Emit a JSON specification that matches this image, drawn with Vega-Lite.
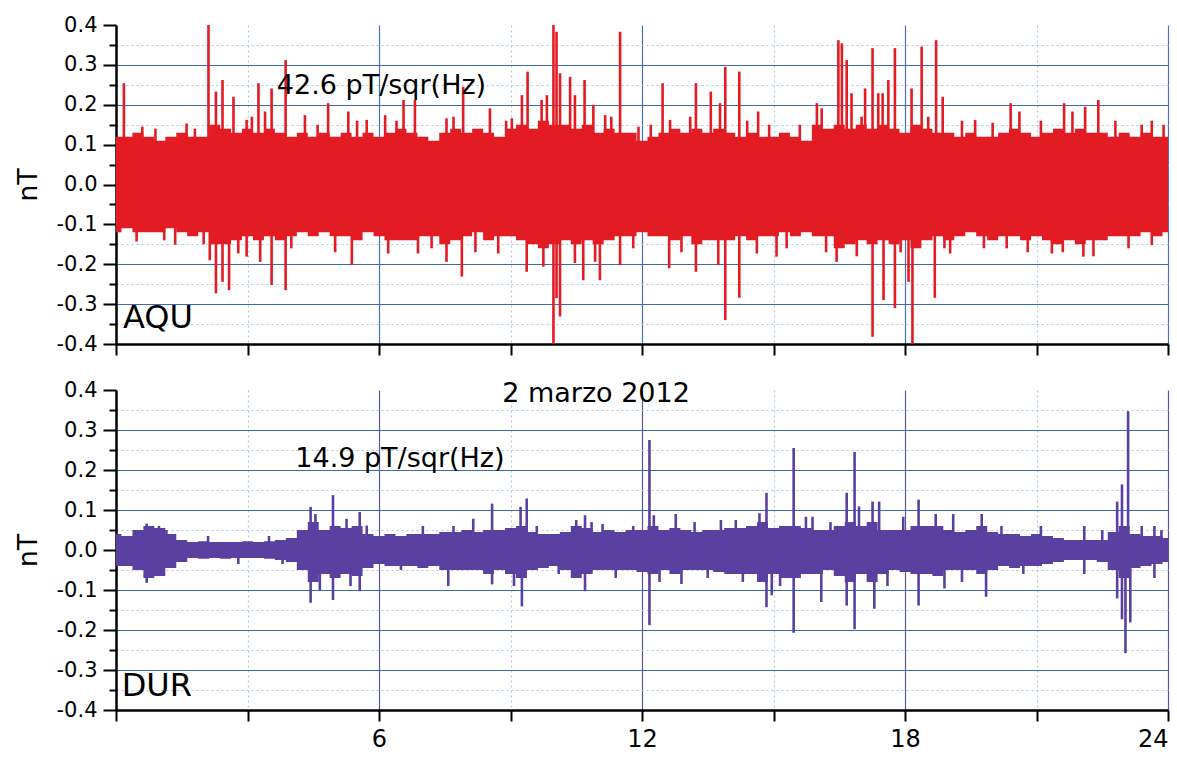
{
"$schema": "https://vega.github.io/schema/vega-lite/v6.json",
"padding": {"left": 14, "top": 14, "right": 3, "bottom": 4},
"background": "white",
"config": {"view": {"stroke": null}, "font": "DejaVu Sans"},
"spacing": 46,
"bounds": "flush",
"resolve": {"scale": {"x": "independent", "y": "independent"}},
"datasets": {
"aquEnv": [
{"t":0,"hi":0.12,"lo":-0.12},{"t":0.25,"hi":0.12,"lo":-0.11},{"t":0.5,"hi":0.13,"lo":-0.12},{"t":0.75,"hi":0.12,"lo":-0.12},{"t":1,"hi":0.11,"lo":-0.12},{"t":1.25,"hi":0.12,"lo":-0.11},{"t":1.5,"hi":0.13,"lo":-0.12},{"t":1.75,"hi":0.12,"lo":-0.13},{"t":2,"hi":0.12,"lo":-0.12},{"t":2.25,"hi":0.15,"lo":-0.15},{"t":2.5,"hi":0.14,"lo":-0.15},{"t":2.75,"hi":0.13,"lo":-0.14},{"t":3,"hi":0.14,"lo":-0.13},{"t":3.25,"hi":0.13,"lo":-0.14},{"t":3.5,"hi":0.14,"lo":-0.13},{"t":3.75,"hi":0.13,"lo":-0.14},{"t":4,"hi":0.12,"lo":-0.13},{"t":4.25,"hi":0.13,"lo":-0.12},{"t":4.5,"hi":0.12,"lo":-0.13},{"t":4.75,"hi":0.13,"lo":-0.12},{"t":5,"hi":0.12,"lo":-0.13},{"t":5.25,"hi":0.13,"lo":-0.13},{"t":5.5,"hi":0.12,"lo":-0.14},{"t":5.75,"hi":0.13,"lo":-0.12},{"t":6,"hi":0.12,"lo":-0.13},{"t":6.25,"hi":0.13,"lo":-0.14},{"t":6.5,"hi":0.14,"lo":-0.14},{"t":6.75,"hi":0.13,"lo":-0.14},{"t":7,"hi":0.12,"lo":-0.13},{"t":7.25,"hi":0.11,"lo":-0.13},{"t":7.5,"hi":0.13,"lo":-0.15},{"t":7.75,"hi":0.14,"lo":-0.14},{"t":8,"hi":0.13,"lo":-0.13},{"t":8.25,"hi":0.14,"lo":-0.12},{"t":8.5,"hi":0.13,"lo":-0.14},{"t":8.75,"hi":0.12,"lo":-0.13},{"t":9,"hi":0.14,"lo":-0.13},{"t":9.25,"hi":0.15,"lo":-0.14},{"t":9.5,"hi":0.14,"lo":-0.15},{"t":9.75,"hi":0.16,"lo":-0.16},{"t":10,"hi":0.15,"lo":-0.15},{"t":10.25,"hi":0.15,"lo":-0.14},{"t":10.5,"hi":0.14,"lo":-0.15},{"t":10.75,"hi":0.15,"lo":-0.14},{"t":11,"hi":0.13,"lo":-0.15},{"t":11.25,"hi":0.14,"lo":-0.14},{"t":11.5,"hi":0.13,"lo":-0.13},{"t":11.75,"hi":0.13,"lo":-0.13},{"t":12,"hi":0.11,"lo":-0.12},{"t":12.25,"hi":0.12,"lo":-0.13},{"t":12.5,"hi":0.13,"lo":-0.13},{"t":12.75,"hi":0.14,"lo":-0.14},{"t":13,"hi":0.13,"lo":-0.13},{"t":13.25,"hi":0.14,"lo":-0.15},{"t":13.5,"hi":0.13,"lo":-0.14},{"t":13.75,"hi":0.14,"lo":-0.14},{"t":14,"hi":0.13,"lo":-0.14},{"t":14.25,"hi":0.12,"lo":-0.13},{"t":14.5,"hi":0.13,"lo":-0.14},{"t":14.75,"hi":0.12,"lo":-0.13},{"t":15,"hi":0.12,"lo":-0.13},{"t":15.25,"hi":0.13,"lo":-0.12},{"t":15.5,"hi":0.12,"lo":-0.13},{"t":15.75,"hi":0.11,"lo":-0.12},{"t":16,"hi":0.15,"lo":-0.13},{"t":16.25,"hi":0.14,"lo":-0.13},{"t":16.5,"hi":0.15,"lo":-0.16},{"t":16.75,"hi":0.14,"lo":-0.15},{"t":17,"hi":0.15,"lo":-0.14},{"t":17.25,"hi":0.14,"lo":-0.15},{"t":17.5,"hi":0.15,"lo":-0.14},{"t":17.75,"hi":0.14,"lo":-0.15},{"t":18,"hi":0.13,"lo":-0.14},{"t":18.25,"hi":0.15,"lo":-0.16},{"t":18.5,"hi":0.14,"lo":-0.14},{"t":18.75,"hi":0.13,"lo":-0.13},{"t":19,"hi":0.13,"lo":-0.14},{"t":19.25,"hi":0.12,"lo":-0.13},{"t":19.5,"hi":0.13,"lo":-0.12},{"t":19.75,"hi":0.12,"lo":-0.13},{"t":20,"hi":0.12,"lo":-0.14},{"t":20.25,"hi":0.13,"lo":-0.13},{"t":20.5,"hi":0.14,"lo":-0.13},{"t":20.75,"hi":0.13,"lo":-0.14},{"t":21,"hi":0.12,"lo":-0.13},{"t":21.25,"hi":0.13,"lo":-0.14},{"t":21.5,"hi":0.14,"lo":-0.15},{"t":21.75,"hi":0.13,"lo":-0.14},{"t":22,"hi":0.14,"lo":-0.15},{"t":22.25,"hi":0.13,"lo":-0.14},{"t":22.5,"hi":0.13,"lo":-0.14},{"t":22.75,"hi":0.12,"lo":-0.13},{"t":23,"hi":0.13,"lo":-0.13},{"t":23.25,"hi":0.12,"lo":-0.13},{"t":23.5,"hi":0.13,"lo":-0.12},{"t":23.75,"hi":0.12,"lo":-0.13},{"t":24,"hi":0.12,"lo":-0.12}
],
"aquSpk": [
{"t":0.18,"v":0.254},{"t":0.47,"v":-0.143},{"t":1.35,"v":-0.151},{"t":1.61,"v":0.153},{"t":2.11,"v":0.40},{"t":2.14,"v":-0.19},{"t":2.28,"v":0.233},{"t":2.28,"v":-0.273},{"t":2.43,"v":0.262},{"t":2.43,"v":-0.244},{"t":2.58,"v":-0.265},{"t":2.68,"v":0.22},{"t":2.79,"v":-0.173},{"t":2.98,"v":0.162},{"t":2.98,"v":-0.181},{"t":3.25,"v":0.254},{"t":3.29,"v":-0.194},{"t":3.40,"v":0.183},{"t":3.55,"v":0.241},{"t":3.55,"v":-0.252},{"t":3.87,"v":0.312},{"t":3.87,"v":-0.265},{"t":4.31,"v":0.174},{"t":4.84,"v":0.204},{"t":5.30,"v":0.183},{"t":5.38,"v":-0.202},{"t":5.72,"v":0.162},
{"t":6.14,"v":0.174},{"t":6.21,"v":-0.173},{"t":6.56,"v":0.212},{"t":6.82,"v":0.212},{"t":6.89,"v":-0.173},{"t":7.54,"v":0.166},{"t":7.54,"v":-0.194},{"t":7.89,"v":-0.231},{"t":7.92,"v":0.245},{"t":8.53,"v":0.191},{"t":8.72,"v":-0.173},{"t":9.03,"v":0.166},{"t":9.26,"v":0.224},{"t":9.37,"v":-0.219},{"t":9.39,"v":0.283},{"t":9.71,"v":0.212},{"t":9.75,"v":-0.206},{"t":9.83,"v":0.224},{"t":9.98,"v":0.40},{"t":9.98,"v":-0.40},{"t":10.05,"v":0.383},{"t":10.05,"v":-0.285},{"t":10.13,"v":0.279},{"t":10.13,"v":-0.331},{"t":10.36,"v":0.27},{"t":10.47,"v":0.224},{"t":10.47,"v":-0.197},{"t":10.66,"v":-0.24},{"t":10.69,"v":0.262},{"t":10.89,"v":0.2},{"t":10.93,"v":-0.194},{"t":11.04,"v":-0.24},{"t":11.16,"v":0.174},{"t":11.50,"v":0.383},{"t":11.50,"v":-0.202},{"t":11.92,"v":0.145},
{"t":12.47,"v":0.254},{"t":12.62,"v":-0.21},{"t":12.64,"v":0.162},{"t":13.23,"v":0.254},{"t":13.23,"v":-0.219},{"t":13.57,"v":0.233},{"t":13.74,"v":-0.202},{"t":13.78,"v":0.204},{"t":13.90,"v":0.295},{"t":13.90,"v":-0.34},{"t":14.22,"v":0.283},{"t":14.22,"v":-0.284},{"t":14.62,"v":-0.173},{"t":14.65,"v":0.183},{"t":15.07,"v":-0.181},{"t":15.99,"v":0.204},{"t":16.10,"v":0.191},{"t":16.44,"v":-0.194},{"t":16.48,"v":0.362},{"t":16.56,"v":0.354},{"t":16.67,"v":0.312},{"t":16.78,"v":0.229},{"t":17.01,"v":0.17},{"t":17.09,"v":0.241},{"t":17.26,"v":0.342},{"t":17.26,"v":-0.382},{"t":17.39,"v":0.229},{"t":17.49,"v":0.229},{"t":17.51,"v":-0.29},{"t":17.62,"v":0.262},{"t":17.77,"v":0.342},{"t":17.77,"v":-0.31},{"t":18.08,"v":-0.244},{"t":18.15,"v":0.241},{"t":18.17,"v":-0.40},{"t":18.38,"v":0.346},{"t":18.53,"v":0.17},{"t":18.68,"v":-0.284},{"t":18.71,"v":0.362},{"t":18.86,"v":0.22},{"t":19.03,"v":-0.173},{"t":19.6,"v":0.162},{"t":20.32,"v":-0.16},{"t":20.41,"v":0.204},{"t":20.61,"v":0.183},{"t":21.35,"v":-0.173},{"t":21.63,"v":0.204},{"t":21.82,"v":0.183},{"t":22.07,"v":-0.181},{"t":22.11,"v":0.195},{"t":22.41,"v":0.212},{"t":23.63,"v":0.16},{"t":23.63,"v":-0.152},
{"t":0.6,"v":0.145},{"t":0.9,"v":0.14},{"t":1.1,"v":-0.14},{"t":1.8,"v":0.14},{"t":2.0,"v":-0.15},{"t":3.1,"v":0.17},{"t":4.0,"v":-0.16},{"t":4.6,"v":0.15},{"t":5.0,"v":-0.17},{"t":5.5,"v":0.16},{"t":6.4,"v":0.16},{"t":7.2,"v":-0.16},{"t":7.7,"v":0.17},{"t":8.2,"v":-0.17},{"t":8.9,"v":0.16},{"t":11.3,"v":0.17},{"t":11.8,"v":-0.16},{"t":12.2,"v":0.15},{"t":12.9,"v":-0.17},{"t":13.1,"v":0.17},{"t":14.4,"v":0.16},{"t":14.9,"v":0.15},{"t":15.3,"v":-0.16},{"t":15.6,"v":0.15},{"t":16.2,"v":-0.17},{"t":16.9,"v":-0.18},{"t":17.9,"v":-0.17},{"t":18.9,"v":-0.16},{"t":19.3,"v":0.16},{"t":19.8,"v":-0.16},{"t":20.0,"v":0.155},{"t":20.8,"v":-0.17},{"t":21.1,"v":0.16},{"t":21.6,"v":-0.17},{"t":22.3,"v":-0.18},{"t":22.8,"v":0.16},{"t":23.1,"v":-0.16},{"t":23.4,"v":0.15},{"t":23.9,"v":0.15}
],
"durEnv": [
{"t":0,"hi":0.04,"lo":-0.04},{"t":0.25,"hi":0.035,"lo":-0.04},{"t":0.5,"hi":0.05,"lo":-0.05},{"t":0.75,"hi":0.06,"lo":-0.07},{"t":1,"hi":0.055,"lo":-0.065},{"t":1.25,"hi":0.04,"lo":-0.045},{"t":1.5,"hi":0.025,"lo":-0.03},{"t":1.75,"hi":0.02,"lo":-0.02},{"t":2,"hi":0.022,"lo":-0.022},{"t":2.25,"hi":0.02,"lo":-0.02},{"t":2.5,"hi":0.02,"lo":-0.022},{"t":2.75,"hi":0.02,"lo":-0.02},{"t":3,"hi":0.022,"lo":-0.02},{"t":3.25,"hi":0.02,"lo":-0.02},{"t":3.5,"hi":0.022,"lo":-0.022},{"t":3.75,"hi":0.025,"lo":-0.025},{"t":4,"hi":0.03,"lo":-0.03},{"t":4.25,"hi":0.05,"lo":-0.05},{"t":4.5,"hi":0.07,"lo":-0.08},{"t":4.75,"hi":0.05,"lo":-0.06},{"t":5,"hi":0.06,"lo":-0.07},{"t":5.25,"hi":0.055,"lo":-0.06},{"t":5.5,"hi":0.06,"lo":-0.065},{"t":5.75,"hi":0.04,"lo":-0.045},{"t":6,"hi":0.035,"lo":-0.035},{"t":6.25,"hi":0.04,"lo":-0.04},{"t":6.5,"hi":0.035,"lo":-0.04},{"t":6.75,"hi":0.04,"lo":-0.04},{"t":7,"hi":0.04,"lo":-0.045},{"t":7.25,"hi":0.04,"lo":-0.04},{"t":7.5,"hi":0.045,"lo":-0.05},{"t":7.75,"hi":0.045,"lo":-0.05},{"t":8,"hi":0.05,"lo":-0.05},{"t":8.25,"hi":0.045,"lo":-0.05},{"t":8.5,"hi":0.05,"lo":-0.06},{"t":8.75,"hi":0.05,"lo":-0.05},{"t":9,"hi":0.055,"lo":-0.06},{"t":9.25,"hi":0.06,"lo":-0.07},{"t":9.5,"hi":0.045,"lo":-0.05},{"t":9.75,"hi":0.04,"lo":-0.045},{"t":10,"hi":0.04,"lo":-0.04},{"t":10.25,"hi":0.045,"lo":-0.05},{"t":10.5,"hi":0.06,"lo":-0.07},{"t":10.75,"hi":0.055,"lo":-0.06},{"t":11,"hi":0.045,"lo":-0.05},{"t":11.25,"hi":0.05,"lo":-0.05},{"t":11.5,"hi":0.045,"lo":-0.05},{"t":11.75,"hi":0.05,"lo":-0.05},{"t":12,"hi":0.05,"lo":-0.055},{"t":12.25,"hi":0.06,"lo":-0.06},{"t":12.5,"hi":0.05,"lo":-0.05},{"t":12.75,"hi":0.055,"lo":-0.06},{"t":13,"hi":0.05,"lo":-0.05},{"t":13.25,"hi":0.045,"lo":-0.05},{"t":13.5,"hi":0.05,"lo":-0.05},{"t":13.75,"hi":0.05,"lo":-0.055},{"t":14,"hi":0.055,"lo":-0.06},{"t":14.25,"hi":0.055,"lo":-0.06},{"t":14.5,"hi":0.06,"lo":-0.06},{"t":14.75,"hi":0.07,"lo":-0.08},{"t":15,"hi":0.055,"lo":-0.06},{"t":15.25,"hi":0.06,"lo":-0.07},{"t":15.5,"hi":0.06,"lo":-0.07},{"t":15.75,"hi":0.055,"lo":-0.06},{"t":16,"hi":0.05,"lo":-0.06},{"t":16.25,"hi":0.05,"lo":-0.05},{"t":16.5,"hi":0.06,"lo":-0.065},{"t":16.75,"hi":0.07,"lo":-0.08},{"t":17,"hi":0.06,"lo":-0.06},{"t":17.25,"hi":0.07,"lo":-0.08},{"t":17.5,"hi":0.05,"lo":-0.06},{"t":17.75,"hi":0.05,"lo":-0.05},{"t":18,"hi":0.05,"lo":-0.055},{"t":18.25,"hi":0.06,"lo":-0.06},{"t":18.5,"hi":0.06,"lo":-0.06},{"t":18.75,"hi":0.06,"lo":-0.065},{"t":19,"hi":0.05,"lo":-0.05},{"t":19.25,"hi":0.045,"lo":-0.05},{"t":19.5,"hi":0.05,"lo":-0.05},{"t":19.75,"hi":0.06,"lo":-0.06},{"t":20,"hi":0.045,"lo":-0.05},{"t":20.25,"hi":0.04,"lo":-0.04},{"t":20.5,"hi":0.04,"lo":-0.045},{"t":20.75,"hi":0.035,"lo":-0.04},{"t":21,"hi":0.04,"lo":-0.04},{"t":21.25,"hi":0.035,"lo":-0.035},{"t":21.5,"hi":0.03,"lo":-0.03},{"t":21.75,"hi":0.025,"lo":-0.025},{"t":22,"hi":0.025,"lo":-0.025},{"t":22.25,"hi":0.025,"lo":-0.025},{"t":22.5,"hi":0.025,"lo":-0.03},{"t":22.75,"hi":0.045,"lo":-0.05},{"t":23,"hi":0.06,"lo":-0.07},{"t":23.25,"hi":0.04,"lo":-0.045},{"t":23.5,"hi":0.035,"lo":-0.04},{"t":23.75,"hi":0.035,"lo":-0.035},{"t":24,"hi":0.03,"lo":-0.03}
],
"durSpk": [
{"t":0.70,"v":0.066},{"t":0.70,"v":-0.082},{"t":0.98,"v":0.06},{"t":0.98,"v":-0.065},{"t":1.15,"v":0.05},{"t":2.10,"v":0.035},{"t":2.79,"v":-0.035},{"t":3.49,"v":0.035},{"t":3.8,"v":-0.035},{"t":4.2,"v":0.05},{"t":4.44,"v":0.108},{"t":4.44,"v":-0.132},{"t":4.55,"v":0.09},{"t":4.65,"v":-0.1},{"t":4.95,"v":0.137},{"t":4.95,"v":-0.125},{"t":5.26,"v":0.078},{"t":5.35,"v":-0.09},{"t":5.56,"v":0.095},{"t":5.56,"v":-0.103},{"t":5.72,"v":0.061},{"t":6.5,"v":-0.05},{"t":7.0,"v":0.06},{"t":7.58,"v":-0.09},{"t":7.7,"v":0.06},{"t":8.15,"v":0.078},{"t":8.58,"v":0.116},{"t":8.58,"v":-0.086},{"t":9.08,"v":-0.09},{"t":9.23,"v":0.108},{"t":9.37,"v":0.129},{"t":9.26,"v":-0.141},{"t":9.6,"v":0.06},{"t":10.1,"v":-0.06},{"t":10.5,"v":0.075},{"t":10.70,"v":0.087},{"t":10.70,"v":-0.103},{"t":10.85,"v":0.07},{"t":11.1,"v":0.065},{"t":11.4,"v":-0.07},{"t":11.8,"v":0.06},
{"t":12.17,"v":0.275},{"t":12.17,"v":-0.188},{"t":12.27,"v":0.087},{"t":12.4,"v":-0.08},{"t":12.77,"v":0.09},{"t":12.9,"v":-0.085},{"t":13.2,"v":0.07},{"t":13.5,"v":-0.07},{"t":13.8,"v":0.075},{"t":14.14,"v":0.075},{"t":14.3,"v":-0.08},{"t":14.68,"v":0.092},{"t":14.84,"v":0.143},{"t":14.84,"v":-0.143},{"t":14.96,"v":-0.113},{"t":15.15,"v":-0.09},{"t":15.46,"v":0.255},{"t":15.46,"v":-0.207},{"t":15.74,"v":0.083},{"t":15.89,"v":0.083},{"t":16.09,"v":-0.13},{"t":16.3,"v":0.07},{"t":16.67,"v":0.143},{"t":16.67,"v":-0.139},{"t":16.85,"v":0.245},{"t":16.85,"v":-0.198},{"t":16.95,"v":0.109},{"t":17.26,"v":0.121},{"t":17.3,"v":-0.147},{"t":17.41,"v":0.121},{"t":17.6,"v":-0.09},{"t":17.96,"v":0.083},{"t":18.31,"v":0.126},{"t":18.31,"v":-0.139},{"t":18.7,"v":0.09},{"t":18.9,"v":-0.096},{"t":19.1,"v":0.09},{"t":19.3,"v":-0.08},{"t":19.75,"v":0.09},{"t":19.85,"v":-0.117},{"t":20.2,"v":0.06},{"t":20.7,"v":-0.06},{"t":21.1,"v":0.06},{"t":22.09,"v":0.06},{"t":22.09,"v":-0.06},{"t":22.5,"v":0.05},{"t":22.84,"v":0.121},{"t":22.84,"v":-0.121},{"t":22.95,"v":0.164},{"t":22.95,"v":-0.173},{"t":23.03,"v":-0.258},{"t":23.09,"v":0.347},{"t":23.14,"v":-0.181},{"t":23.4,"v":0.06},{"t":23.69,"v":0.06},{"t":23.69,"v":-0.07},{"t":23.85,"v":0.05}
]
},
"vconcat": [
{
"width": 1052, "height": 319,
"layer": [
{"data": {"name": "aquEnv"},
 "mark": {"type": "area", "interpolate": "step", "color": "#e31b23"},
 "encoding": {
  "x": {"field": "t", "type": "quantitative", "scale": {"domain": [0, 24], "nice": false, "zero": false},
   "axis": {"values": [0,3,6,9,12,15,18,21,24], "tickCount": 40, "labels": false, "title": null, "grid": true,
    "domainColor": "black", "domainWidth": 2.5, "tickColor": "black", "tickWidth": 2, "tickSize": 11,
    "gridColor": {"condition": {"test": "datum.value % 6 == 0", "value": "#4a70b7"}, "value": "#a8c8e8"},
    "gridDash": {"condition": {"test": "datum.value % 6 == 0", "value": []}, "value": [2, 3]},
    "gridOpacity": {"condition": {"test": "datum.value == 0", "value": 0}, "value": 1},
    "gridWidth": 1.2}},
  "y": {"field": "hi", "type": "quantitative", "scale": {"domain": [-0.4, 0.4], "nice": false, "zero": false},
   "axis": {"values": [-0.4,-0.35,-0.3,-0.25,-0.2,-0.15,-0.1,-0.05,0,0.05,0.1,0.15,0.2,0.25,0.3,0.35,0.4], "tickCount": 40,
    "title": "nT", "titleFontSize": 27, "titleFontWeight": "normal", "titleColor": "black",
    "titleX": -88, "titleY": 159.5, "titleAngle": -90, "titleAlign": "center", "titleBaseline": "middle",
    "labelExpr": "abs(datum.value*10 - round(datum.value*10)) < 0.01 ? (datum.value < -0.001 ? '-' : '') + format(abs(datum.value), '.1f') : ''",
    "labelFontSize": 21, "labelColor": "black", "labelPadding": 6, "labelOverlap": false, "grid": true,
    "domainColor": "black", "domainWidth": 2.5, "tickColor": "black", "tickWidth": 2, "tickSize": 13,
    "tickDash": {"condition": {"test": "abs(datum.value*10 - round(datum.value*10)) < 0.01", "value": []}, "value": [7, 30]},
    "gridColor": {"condition": {"test": "abs(datum.value*10 - round(datum.value*10)) < 0.01", "value": "#3a6ab3"}, "value": "#a8c8e8"},
    "gridDash": {"condition": {"test": "abs(datum.value*10 - round(datum.value*10)) < 0.01", "value": []}, "value": [2, 3]},
    "gridOpacity": {"condition": {"test": "abs(datum.value) > 0.39", "value": 0}, "value": 1},
    "gridWidth": 1.2}},
  "y2": {"field": "lo"}}},
{"data": {"name": "aquSpk"},
 "mark": {"type": "rule", "color": "#e31b23", "strokeWidth": 2.6},
 "encoding": {"x": {"field": "t", "type": "quantitative"}, "y": {"field": "v", "type": "quantitative"}, "y2": {"datum": 0}}},
{"data": {"values": [{"t": 3.67, "v": 0.247, "label": "42.6 pT/sqr(Hz)"}]},
 "mark": {"type": "text", "align": "left", "baseline": "middle", "fontSize": 27, "color": "black"},
 "encoding": {"x": {"field": "t", "type": "quantitative"}, "y": {"field": "v", "type": "quantitative"}, "text": {"field": "label"}}},
{"data": {"values": [{"t": 0.16, "v": -0.335, "label": "AQU"}]},
 "mark": {"type": "text", "align": "left", "baseline": "middle", "fontSize": 32, "color": "black"},
 "encoding": {"x": {"field": "t", "type": "quantitative"}, "y": {"field": "v", "type": "quantitative"}, "text": {"field": "label"}}}
]
},
{
"width": 1052, "height": 320,
"layer": [
{"data": {"name": "durEnv"},
 "mark": {"type": "area", "interpolate": "step", "color": "#5a40a0"},
 "encoding": {
  "x": {"field": "t", "type": "quantitative", "scale": {"domain": [0, 24], "nice": false, "zero": false},
   "axis": {"values": [0,3,6,9,12,15,18,21,24], "tickCount": 40, "title": null, "grid": true, "format": "d",
    "labelExpr": "datum.value % 6 == 0 && datum.value > 0 ? datum.label : ''",
    "labelFontSize": 24, "labelColor": "black", "labelPadding": 6, "labelFlush": true, "labelOverlap": false,
    "domainColor": "black", "domainWidth": 2.5, "tickColor": "black", "tickWidth": 2, "tickSize": 11,
    "gridColor": {"condition": {"test": "datum.value % 6 == 0", "value": "#58579f"}, "value": "#a8c8e8"},
    "gridDash": {"condition": {"test": "datum.value % 6 == 0", "value": []}, "value": [2, 3]},
    "gridOpacity": {"condition": {"test": "datum.value == 0", "value": 0}, "value": 1},
    "gridWidth": 1.2}},
  "y": {"field": "hi", "type": "quantitative", "scale": {"domain": [-0.4, 0.4], "nice": false, "zero": false},
   "axis": {"values": [-0.4,-0.35,-0.3,-0.25,-0.2,-0.15,-0.1,-0.05,0,0.05,0.1,0.15,0.2,0.25,0.3,0.35,0.4], "tickCount": 40,
    "title": "nT", "titleFontSize": 27, "titleFontWeight": "normal", "titleColor": "black",
    "titleX": -88, "titleY": 160, "titleAngle": -90, "titleAlign": "center", "titleBaseline": "middle",
    "labelExpr": "abs(datum.value*10 - round(datum.value*10)) < 0.01 ? (datum.value < -0.001 ? '-' : '') + format(abs(datum.value), '.1f') : ''",
    "labelFontSize": 21, "labelColor": "black", "labelPadding": 6, "labelOverlap": false, "grid": true,
    "domainColor": "black", "domainWidth": 2.5, "tickColor": "black", "tickWidth": 2, "tickSize": 13,
    "tickDash": {"condition": {"test": "abs(datum.value*10 - round(datum.value*10)) < 0.01", "value": []}, "value": [7, 30]},
    "gridColor": {"condition": {"test": "abs(datum.value*10 - round(datum.value*10)) < 0.01", "value": "#3a6ab3"}, "value": "#a8c8e8"},
    "gridDash": {"condition": {"test": "abs(datum.value*10 - round(datum.value*10)) < 0.01", "value": []}, "value": [2, 3]},
    "gridOpacity": {"condition": {"test": "abs(datum.value) > 0.39", "value": 0}, "value": 1},
    "gridWidth": 1.2}},
  "y2": {"field": "lo"}}},
{"data": {"name": "durSpk"},
 "mark": {"type": "rule", "color": "#5a40a0", "strokeWidth": 2.6},
 "encoding": {"x": {"field": "t", "type": "quantitative"}, "y": {"field": "v", "type": "quantitative"}, "y2": {"datum": 0}}},
{"data": {"values": [{"t": 8.81, "v": 0.39, "label": "2 marzo 2012"}, {"t": 4.09, "v": 0.227, "label": "14.9 pT/sqr(Hz)"}]},
 "mark": {"type": "text", "align": "left", "baseline": "middle", "fontSize": 27, "color": "black"},
 "encoding": {"x": {"field": "t", "type": "quantitative"}, "y": {"field": "v", "type": "quantitative"}, "text": {"field": "label"}}},
{"data": {"values": [{"t": 0.13, "v": -0.339, "label": "DUR"}]},
 "mark": {"type": "text", "align": "left", "baseline": "middle", "fontSize": 32, "color": "black"},
 "encoding": {"x": {"field": "t", "type": "quantitative"}, "y": {"field": "v", "type": "quantitative"}, "text": {"field": "label"}}}
]
}
]
}
